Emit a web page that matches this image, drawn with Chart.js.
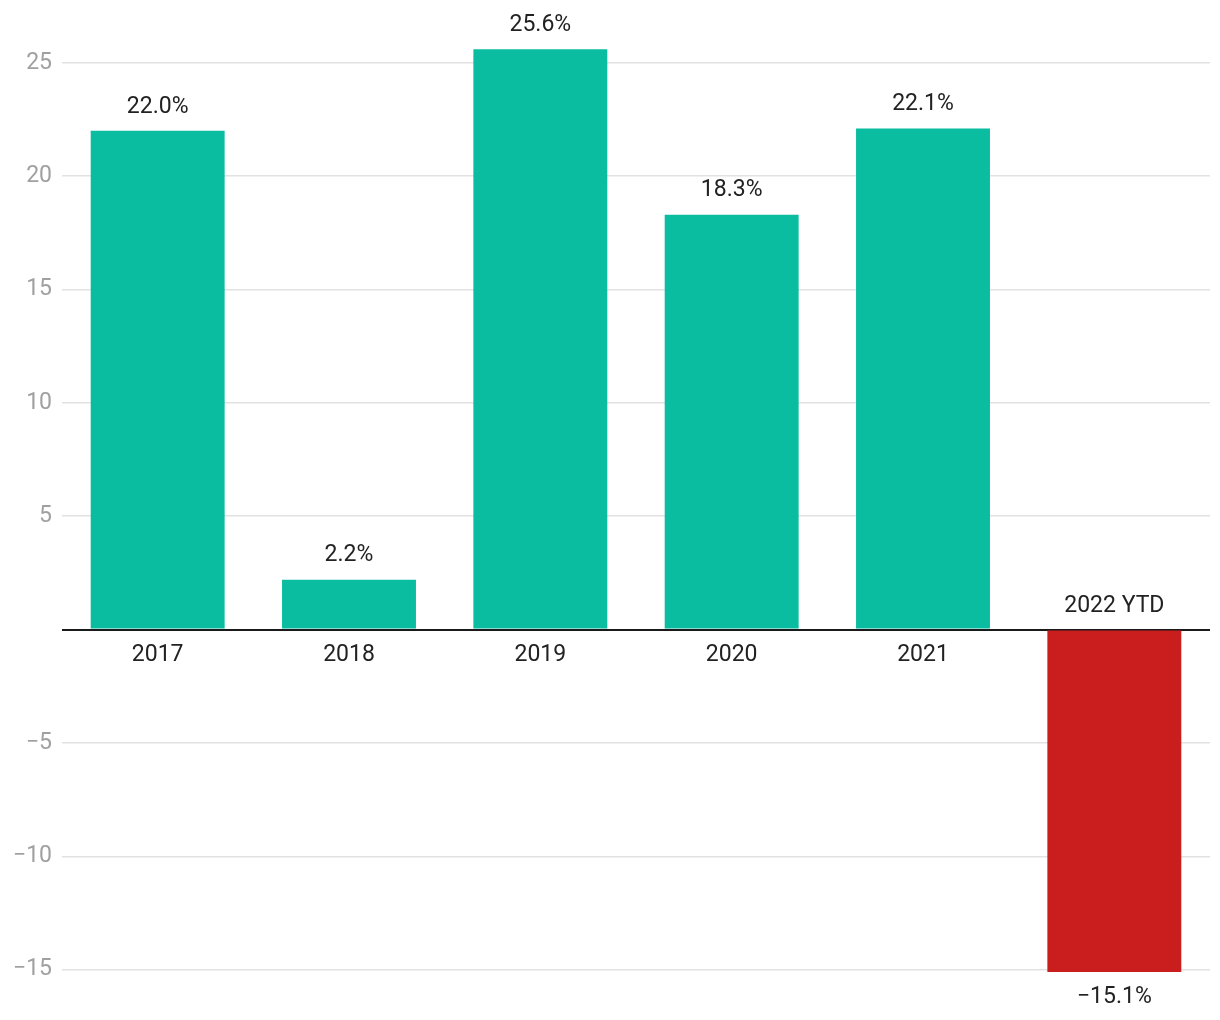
<!DOCTYPE html>
<html>
<head>
<meta charset="utf-8">
<script src="https://cdn.jsdelivr.net/npm/chart.js@4/dist/chart.umd.min.js"></script>
<style>
  html, body { margin: 0; padding: 0; background: #fff; }
  #wrap { width: 1220px; height: 1020px; position: relative; }
</style>
</head>
<body>
<div id="wrap"><canvas id="myChart"></canvas></div>
<script>
var years = ["2017", "2018", "2019", "2020", "2021", "2022 YTD"];
var returns = [22.0, 2.2, 25.6, 18.3, 22.1, -15.1];
var yTicks = [-15, -10, -5, 0, 5, 10, 15, 20, 25];

var upColor = "#0bbda0";
var downColor = "#c91d1e";

function fmt(v) {
  var s = Math.abs(v).toFixed(1) + "%";
  return v < 0 ? "\u2212" + s : s;
}

// year names and values sit next to the zero line / bar ends
var barLabels = {
  id: "barLabels",
  afterDatasetsDraw: function(chart) {
    var ctx = chart.ctx;
    var meta = chart.getDatasetMeta(0);
    var zero = chart.scales.y.getPixelForValue(0);
    ctx.save();
    ctx.font = "23px Roboto";
    ctx.fillStyle = "#222";
    ctx.textAlign = "center";
    ctx.textBaseline = "middle";
    meta.data.forEach(function(bar, i) {
      var v = returns[i];
      if (v >= 0) {
        ctx.fillText(years[i], bar.x, zero + 26);
        ctx.fillText(fmt(v), bar.x, bar.y - 24);
      } else {
        ctx.fillText(years[i], bar.x, zero - 23);
        ctx.fillText(fmt(v), bar.x, bar.y + 25);
      }
    });
    ctx.restore();
  }
};

new Chart("myChart", {
  type: "bar",
  data: {
    labels: years,
    datasets: [{
      data: returns,
      backgroundColor: returns.map(function(v) { return v < 0 ? downColor : upColor; }),
      barPercentage: 0.7,
      categoryPercentage: 1.0
    }]
  },
  options: {
    responsive: true,
    maintainAspectRatio: false,
    animation: false,
    layout: { padding: { top: 5, bottom: 5, left: 0, right: 10 } },
    plugins: {
      legend: { display: false },
      tooltip: { enabled: false }
    },
    scales: {
      x: { display: false },
      y: {
        min: -16.17,
        max: 26.72,
        afterBuildTicks: function(scale) {
          scale.ticks = yTicks.map(function(v) { return { value: v }; });
        },
        afterFit: function(scale) { scale.width = 62; },
        border: { display: false },
        grid: {
          drawTicks: false,
          color: function(c) { return c.tick && c.tick.value === 0 ? "#1a1a1a" : "#e2e2e2"; },
          lineWidth: function(c) { return c.tick && c.tick.value === 0 ? 2 : 1.5; }
        },
        ticks: {
          padding: 10,
          color: "#a0a0a0",
          font: { family: "Roboto", size: 23 },
          callback: function(v) {
            if (v === 0) return "";
            return v < 0 ? "\u2212" + Math.abs(v) : String(v);
          }
        }
      }
    }
  },
  plugins: [barLabels]
});
</script>
</body>
</html>
